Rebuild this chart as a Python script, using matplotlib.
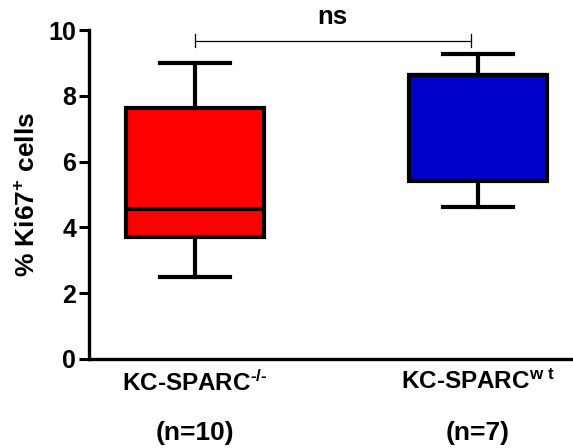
import matplotlib
matplotlib.use("Agg")
import matplotlib.pyplot as plt
from matplotlib.transforms import blended_transform_factory

plt.rcParams['font.family'] = ['Liberation Sans', 'DejaVu Sans']
plt.rcParams['font.weight'] = 'bold'
plt.rcParams['mathtext.fontset'] = 'custom'
plt.rcParams['mathtext.rm'] = 'Liberation Sans:bold'
plt.rcParams['mathtext.it'] = 'Liberation Sans:bold'
plt.rcParams['mathtext.bf'] = 'Liberation Sans:bold'

# Box summaries (min-to-max whiskers)
groups = [r'KC-SPARC$^{\text{-/-}}$', r'KC-SPARC$^{\text{w t}}$']
counts = ['(n=10)', '(n=7)']
mins = [2.5, 4.62]
q1s = [3.7, 5.41]
medians = [4.56, 8.62]
q3s = [7.63, 8.62]
maxs = [9.0, 9.27]
colors = ['#FF0000', '#0000CC']
sig_label = 'ns'
yticks = [0, 2, 4, 6, 8, 10]

fig = plt.figure(figsize=(5.73, 4.48), dpi=100)
ax = fig.add_axes([0.155, 0.199, 0.845, 0.734])

stats = [dict(whislo=lo, q1=a, med=m, q3=b, whishi=hi, label=g)
         for lo, a, m, b, hi, g in zip(mins, q1s, medians, q3s, maxs, groups)]
lw = 3.0
bp = ax.bxp(stats, positions=[1, 2], widths=0.485, capwidths=0.25,
            showfliers=False, patch_artist=True,
            boxprops=dict(linewidth=lw, edgecolor='black'),
            whiskerprops=dict(linewidth=lw, color='black'),
            capprops=dict(linewidth=lw, color='black'),
            medianprops=dict(linewidth=lw, color='black'))
for patch, c in zip(bp['boxes'], colors):
    patch.set_facecolor(c)

ax.set_xlim(0.625, 2.336)
ax.set_ylim(0, 10)
ax.set_yticks(yticks)
ax.set_yticklabels([str(t) for t in yticks], fontsize=18, fontweight='bold')
ax.set_xticks([1, 2])
ax.set_xticklabels(groups, fontsize=17.5, fontweight='bold')
ax.tick_params(axis='x', length=0, pad=8)
ax.tick_params(axis='y', length=7, width=2.2, pad=2)
for s in ('top', 'right'):
    ax.spines[s].set_visible(False)
for s in ('left', 'bottom'):
    ax.spines[s].set_linewidth(2.4)

ax.set_ylabel('% Ki67$^{+}$ cells', fontsize=19, fontweight='bold', labelpad=6)

# group sizes under the category labels
tr = blended_transform_factory(ax.transData, ax.transAxes)
for x, n in zip([1, 2], counts):
    ax.text(x, -0.225, n, transform=tr, ha='center', va='center',
            fontsize=19, fontweight='bold', clip_on=False)

# significance bracket
yb = 9.67
ax.plot([1, 1.975], [yb, yb], color='black', lw=0.9, clip_on=False)
for x in (1, 1.975):
    ax.plot([x, x], [yb - 0.2, yb + 0.2], color='black', lw=0.9, clip_on=False)
ax.text(1.485, 10.02, sig_label, ha='center', va='bottom',
        fontsize=18.5, fontweight='bold', clip_on=False)

fig.savefig('out.png', dpi=100)
